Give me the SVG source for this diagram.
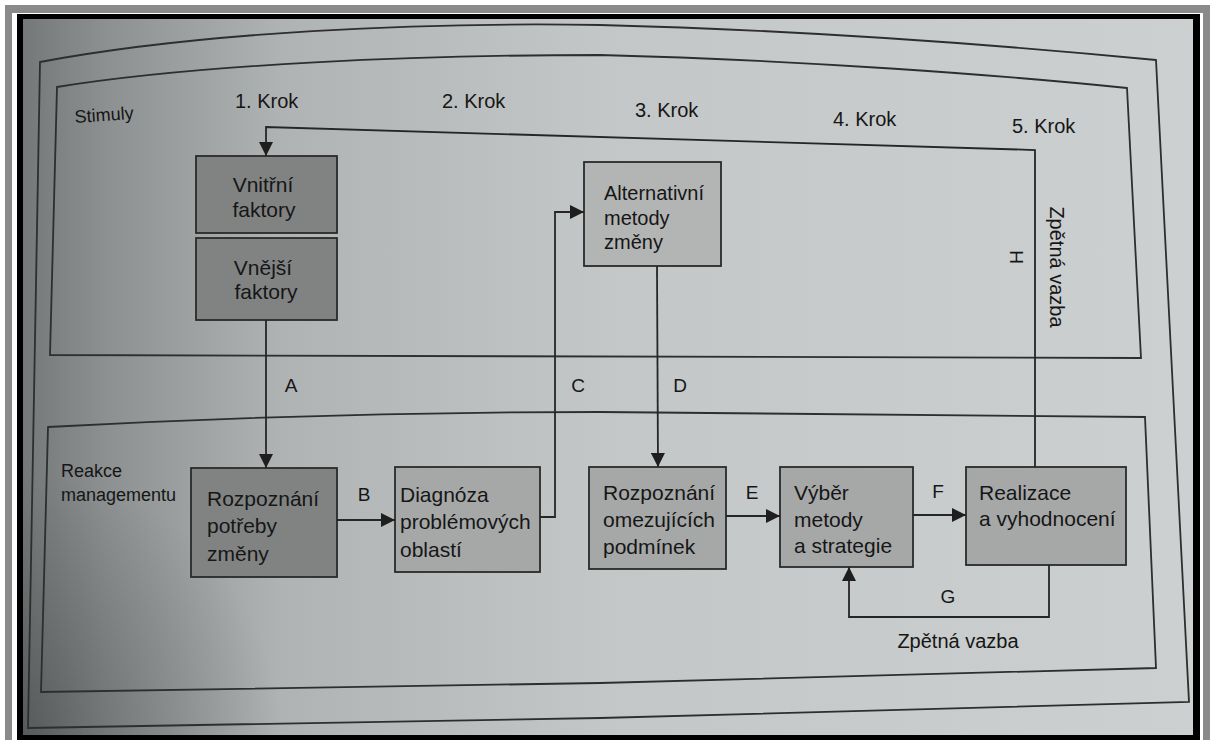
<svg xmlns="http://www.w3.org/2000/svg" width="1210" height="740" viewBox="0 0 1210 740">
<style>
.frame{fill:none;stroke:#2e2e2e;stroke-width:1.8}
.box{stroke:#2a2a2a;stroke-width:1.8}
.dark{fill:#818383}
.mid{fill:#a6a8a8}
.light{fill:#b3b5b5}
.t{font-family:"Liberation Sans",Arial,sans-serif;fill:#161616}
.bt{font-size:21px}
.lbl{font-size:18px}
.krok{font-size:20px}
.let{font-size:19px;text-anchor:middle}
.con{fill:none;stroke:#262626;stroke-width:1.8}
</style>
<defs>
<linearGradient id="pg" x1="23" y1="0" x2="1193" y2="0" gradientUnits="userSpaceOnUse">
<stop offset="0" stop-color="#747878"/>
<stop offset="0.07" stop-color="#8c9090"/>
<stop offset="0.22" stop-color="#b0b3b3"/>
<stop offset="0.5" stop-color="#c4c7c7"/>
<stop offset="1" stop-color="#cdd0d0"/>
</linearGradient>
<radialGradient id="bl" cx="23" cy="735" r="260" gradientUnits="userSpaceOnUse">
<stop offset="0" stop-color="#000" stop-opacity="0.25"/>
<stop offset="1" stop-color="#000" stop-opacity="0"/>
</radialGradient>
<marker id="ah" markerUnits="userSpaceOnUse" markerWidth="15" markerHeight="14" refX="14" refY="7" orient="auto">
<path d="M0,0 L14,7 L0,14 Z" fill="#1e1e1e"/>
</marker>
</defs>
<rect x="0" y="0" width="1210" height="740" fill="#ffffff"/>
<rect x="5" y="5" width="1205" height="735" fill="#8a8a8a"/>
<rect x="12" y="13" width="1191" height="727" fill="#ffffff"/>
<rect x="17" y="14" width="1183" height="726" fill="#000000"/>
<rect x="23" y="19" width="1170" height="716" fill="url(#pg)"/>
<rect x="23" y="19" width="1170" height="716" fill="url(#bl)"/>
<g id="frames">
<path class="frame" d="M40,62 C200,32 420,22 600,25 C800,30 1000,45 1156,60 L1189,702 L600,718 L28,728 Z"/>
<path id="stimuly-box" class="frame" d="M57,87 C200,64 420,55 600,55 C800,60 1000,75 1127,88 L1141,358 L50,355 Z"/>
<path id="reakce-box" class="frame" d="M48,427 C250,416 450,412 600,412 L1145,417 L1156,668 L600,683 L41,692 Z"/>
</g>
<g id="labels">
<text class="t lbl" x="75" y="123" transform="rotate(-4 75 123)">Stimuly</text>
<text class="t krok" x="235" y="108">1. Krok</text>
<text class="t krok" x="442" y="108">2. Krok</text>
<text class="t krok" x="635" y="117">3. Krok</text>
<text class="t krok" x="833" y="126">4. Krok</text>
<text class="t krok" x="1012" y="133">5. Krok</text>
<text class="t lbl" x="61" y="477">Reakce</text>
<text class="t lbl" x="61" y="501">managementu</text>
</g>
<g id="vnitrni">
<rect class="box dark" x="196" y="156" width="141" height="77"/>
<text class="t bt" x="263" y="192" text-anchor="middle">Vnitřní</text>
<text class="t bt" x="264" y="217" text-anchor="middle">faktory</text>
</g>
<g id="vnejsi">
<rect class="box dark" x="196" y="238" width="141" height="82"/>
<text class="t bt" x="263" y="275" text-anchor="middle">Vnější</text>
<text class="t bt" x="266" y="299" text-anchor="middle">faktory</text>
</g>
<g id="alternativni">
<rect class="box light" x="584" y="162" width="137" height="104"/>
<text class="t" style="font-size:20px" x="604" y="200">Alternativní</text>
<text class="t" style="font-size:20px" x="604" y="225">metody</text>
<text class="t" style="font-size:20px" x="604" y="249">změny</text>
</g>
<g id="rozpoznani-potreby">
<rect class="box dark" x="191" y="468" width="146" height="109"/>
<text class="t bt" x="207" y="506">Rozpoznání</text>
<text class="t bt" x="207" y="533">potřeby</text>
<text class="t bt" x="207" y="561">změny</text>
</g>
<g id="diagnoza">
<rect class="box mid" x="395" y="467" width="145" height="105"/>
<text class="t bt" x="400" y="502">Diagnóza</text>
<text class="t bt" x="400" y="529">problémových</text>
<text class="t bt" x="400" y="557">oblastí</text>
</g>
<g id="rozpoznani-omezujicich">
<rect class="box mid" x="589" y="467" width="137" height="102"/>
<text class="t bt" x="603" y="500">Rozpoznání</text>
<text class="t bt" x="603" y="527">omezujících</text>
<text class="t bt" x="603" y="554">podmínek</text>
</g>
<g id="vyber">
<rect class="box mid" x="780" y="467" width="133" height="100"/>
<text class="t bt" x="794" y="500">Výběr</text>
<text class="t bt" x="794" y="527">metody</text>
<text class="t bt" x="794" y="553">a strategie</text>
</g>
<g id="realizace">
<rect class="box mid" x="966" y="467" width="160" height="98"/>
<text class="t bt" x="979" y="500">Realizace</text>
<text class="t bt" x="979" y="526">a vyhodnocení</text>
</g>
<g id="connectors">
<path class="con" d="M1035,467 L1035,150 L266,127 L266,156" marker-end="url(#ah)"/>
<path class="con" d="M266,320 L266,468" marker-end="url(#ah)"/>
<path class="con" d="M337,520 L395,520" marker-end="url(#ah)"/>
<path class="con" d="M540,517 L555,517 L555,212 L584,212" marker-end="url(#ah)"/>
<path class="con" d="M657,266 L658,467" marker-end="url(#ah)"/>
<path class="con" d="M726,516 L780,516" marker-end="url(#ah)"/>
<path class="con" d="M913,515 L966,515" marker-end="url(#ah)"/>
<path class="con" d="M1049,565 L1049,617 L849,617 L849,567" marker-end="url(#ah)"/>
<text class="t let" x="291" y="392">A</text>
<text class="t let" x="364" y="501">B</text>
<text class="t let" x="578" y="392">C</text>
<text class="t let" x="680" y="392">D</text>
<text class="t let" x="752" y="499">E</text>
<text class="t let" x="938" y="498">F</text>
<text class="t let" x="948" y="603">G</text>
<text class="t let" x="1010" y="257" transform="rotate(90 1010 257)">H</text>
<text class="t" style="font-size:20px" x="1050" y="267" text-anchor="middle" transform="rotate(90 1050 267)">Zpětná vazba</text>
<text class="t" style="font-size:20px" x="958" y="648" text-anchor="middle">Zpětná vazba</text>
</g>
</svg>
